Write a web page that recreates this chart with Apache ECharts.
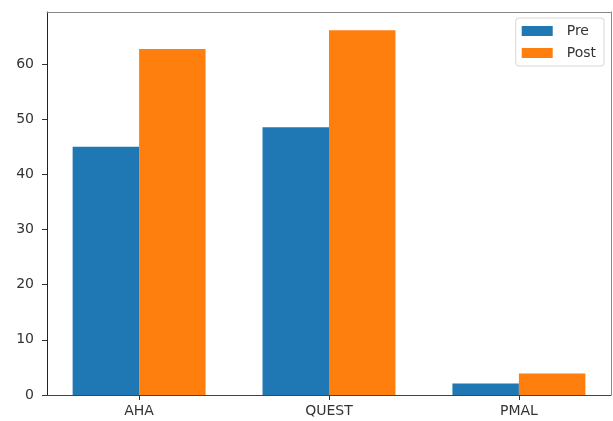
<!DOCTYPE html>
<html>
<head>
<meta charset="utf-8">
<script src="https://cdn.jsdelivr.net/npm/echarts@6/dist/echarts.min.js"></script>
<style>
  html, body { margin: 0; padding: 0; background: #fff; }
  #chart { width: 613px; height: 421px; }
</style>
</head>
<body>
<div id="chart"></div>
<script>
// Survey scores before and after, grouped by instrument
const categories = ['AHA', 'QUEST', 'PMAL'];
const preScores = [45.0, 48.5, 2.1];
const postScores = [62.7, 66.1, 3.9];
const yTicks = [0, 10, 20, 30, 40, 50, 60];
const seriesNames = ['Pre', 'Post'];

// Group layout in category units (bars are 0.35 wide, axis padded 5%)
const barUnit = 0.35;
const xMin = -barUnit - 0.05 * (categories.length - 1 + 2 * barUnit);
const xMax = categories.length - 1 + barUnit + 0.05 * (categories.length - 1 + 2 * barUnit);
const yMax = Math.max(...postScores, ...preScores) * 1.05;

const gridLeft = 47, gridRight = 2, gridTop = 12, gridBottom = 26;
const plotWidth = 613 - gridLeft - gridRight;
const barPx = barUnit * plotWidth / (xMax - xMin);

const font = 'DejaVu Sans';
const textColor = '#333';

const chart = echarts.init(document.getElementById('chart'), null, { renderer: 'canvas' });
chart.setOption({
  animation: false,
  backgroundColor: '#fff',
  textStyle: { fontFamily: font },
  grid: { left: gridLeft, right: gridRight, top: gridTop, bottom: gridBottom, containLabel: false },
  legend: {
    orient: 'vertical',
    right: 9,
    top: 18,
    padding: [6, 8, 6, 6],
    itemWidth: 31,
    itemHeight: 10,
    itemGap: 8,
    borderColor: '#d8d8d8',
    borderWidth: 1,
    borderRadius: 3,
    backgroundColor: 'rgba(255,255,255,0.8)',
    icon: 'rect',
    textStyle: { fontFamily: font, fontSize: 14, color: textColor, padding: [0, 0, 0, 9] },
    data: seriesNames
  },
  xAxis: [
    {
      type: 'value',
      min: xMin,
      max: xMax,
      splitLine: { show: false },
      axisLine: { show: true, lineStyle: { color: '#444', width: 1 } },
      axisTick: { show: true, length: 5, customValues: categories.map((_, i) => i), lineStyle: { color: '#333' } },
      axisLabel: {
        customValues: categories.map((_, i) => i),
        formatter: v => categories[Math.round(v)] || '',
        fontFamily: font, fontSize: 14, color: textColor, margin: 9
      }
    },
    {
      type: 'value',
      position: 'top',
      min: xMin,
      max: xMax,
      splitLine: { show: false },
      axisLine: { show: true, onZero: false, lineStyle: { color: '#888', width: 1 } },
      axisTick: { show: false },
      axisLabel: { show: false }
    }
  ],
  yAxis: [
    {
      type: 'value',
      min: 0,
      max: yMax,
      splitLine: { show: false },
      axisLine: { show: true, onZero: false, lineStyle: { color: '#222', width: 1 } },
      axisTick: { show: true, length: 5, customValues: yTicks, lineStyle: { color: '#333' } },
      axisLabel: {
        customValues: yTicks,
        fontFamily: font, fontSize: 14, color: textColor, margin: 13
      }
    },
    {
      type: 'value',
      position: 'right',
      min: 0,
      max: yMax,
      splitLine: { show: false },
      axisLine: { show: true, onZero: false, lineStyle: { color: '#888', width: 1 } },
      axisTick: { show: false },
      axisLabel: { show: false }
    }
  ],
  series: [
    {
      name: seriesNames[0],
      type: 'bar',
      barWidth: barPx,
      barGap: '0%',
      itemStyle: { color: '#1f77b4' },
      data: preScores.map((v, i) => [i, v])
    },
    {
      name: seriesNames[1],
      type: 'bar',
      barWidth: barPx,
      barGap: '0%',
      itemStyle: { color: '#ff7f0e' },
      data: postScores.map((v, i) => [i, v])
    }
  ]
});
</script>
</body>
</html>
